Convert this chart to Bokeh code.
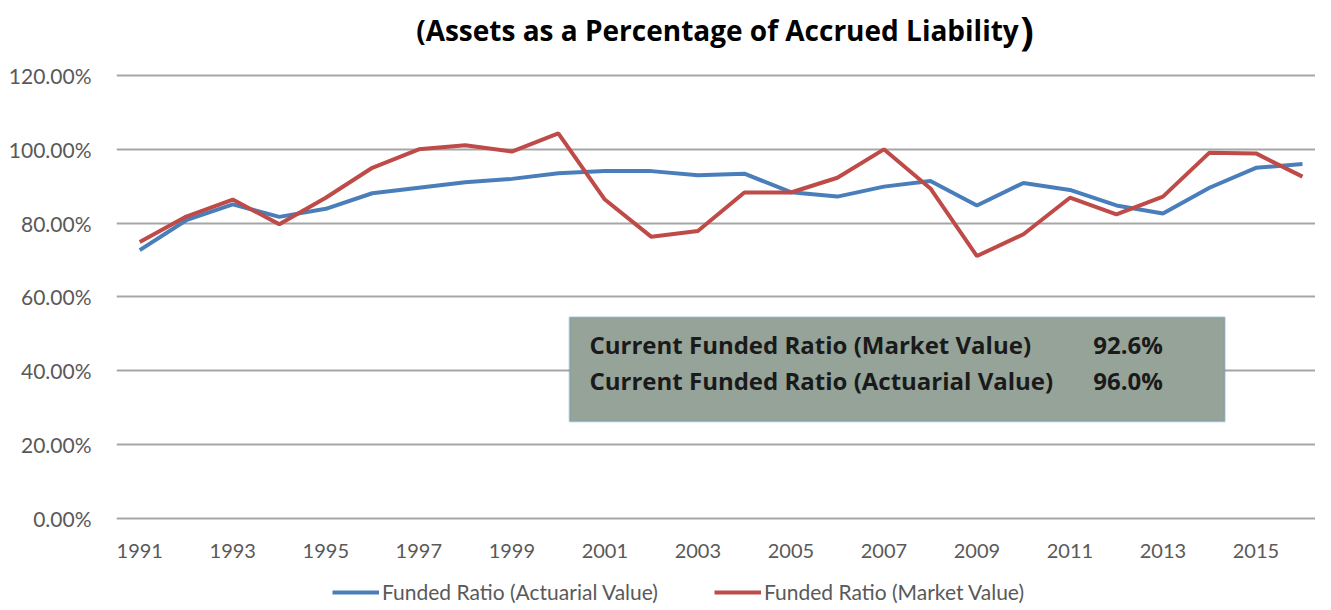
from bokeh.plotting import figure
from bokeh.models import (ColumnDataSource, FixedTicker, NumeralTickFormatter, Legend,
                          LegendItem, BoxAnnotation, Label, Range1d)
from bokeh.core.properties import value
from bokeh.embed import file_html
from bokeh.resources import INLINE

years = list(range(1991, 2017))
actuarial = [72.7, 80.8, 85.1, 81.7, 83.9, 88.1, 89.6, 91.1, 92.0, 93.5, 94.1, 94.1, 93.0,
             93.4, 88.4, 87.2, 89.9, 91.4, 84.8, 90.9, 89.0, 84.8, 82.6, 89.6, 95.0, 96.0]
market = [74.9, 81.8, 86.4, 79.7, 86.9, 95.0, 100.0, 101.1, 99.4, 104.3, 86.4, 76.3, 77.9,
          88.3, 88.3, 92.3, 100.0, 89.4, 71.1, 77.0, 86.9, 82.4, 87.2, 99.1, 98.9, 92.6]
y_ticks = [0, 0.2, 0.4, 0.6, 0.8, 1.0, 1.2]
x_ticks = list(range(1991, 2017, 2))
x_tick_labels = [str(t) for t in x_ticks]
series_names = ["Funded Ratio (Actuarial Value)", "Funded Ratio (Market Value)"]
title_text = "(Assets as a Percentage of Accrued Liability"
box_labels = ["Current Funded Ratio (Market Value)", "Current Funded Ratio (Actuarial Value)"]

BLUE = "#4A7EBB"
RED = "#BE4B48"
GRID = "#A6A6A6"
TXT = "#595959"
FONT = "Lato"
BOLD_FONT = "Open Sans"

PX_PER_UNIT = 369.17          # vertical pixels per 100 %
src = ColumnDataSource(dict(year=years,
                            act=[v / 100 for v in actuarial],
                            mkt=[v / 100 for v in market]))

# the frame spans the whole height: title, x labels and legend are drawn inside it
p = figure(width=1315, height=604, output_backend="svg", toolbar_location=None, title=None,
           x_range=Range1d(1990.5, 2016.28), y_range=Range1d(-0.2330, 1.4032),
           min_border_left=116, min_border_right=0, min_border_top=0, min_border_bottom=0)
p.outline_line_color = None
p.background_fill_color = "white"
p.border_fill_color = "white"

# y axis
p.yaxis.ticker = FixedTicker(ticks=y_ticks)
p.yaxis.formatter = NumeralTickFormatter(format="0.00%")
p.yaxis.axis_line_color = None
p.yaxis.major_tick_line_color = None
p.yaxis.minor_tick_line_color = None
p.yaxis.major_tick_out = 0
p.yaxis.major_tick_in = 0
p.yaxis.major_label_standoff = 25
p.yaxis.major_label_text_font = FONT
p.yaxis.major_label_text_font_size = "21px"
p.yaxis.major_label_text_color = TXT

# x axis: category labels under the 0% line
p.xaxis.visible = False
p.text(x=x_ticks, y=[-33 / PX_PER_UNIT] * len(x_ticks), text=x_tick_labels,
       text_font=value(FONT), text_font_size="20px", text_color=TXT,
       text_align="center", text_baseline="middle")

p.xgrid.grid_line_color = None
p.ygrid.ticker = FixedTicker(ticks=y_ticks)
p.ygrid.grid_line_color = GRID
p.ygrid.grid_line_width = 2

r_act = p.line("year", "act", source=src, line_color=BLUE, line_width=4)
r_mkt = p.line("year", "mkt", source=src, line_color=RED, line_width=4)

# annotation box
box = BoxAnnotation(left=2000.24, right=2014.33, bottom=0.263, top=0.545,
                    fill_color="#95A398", fill_alpha=1.0,
                    line_color="#5B8AC4", line_width=2)
p.add_layout(box)

vals = [market[-1], actuarial[-1]]
for lab, v, yy in zip(box_labels, vals, [0.4713, 0.3738]):
    p.add_layout(Label(x=2000.67, y=yy, text=lab, text_font=BOLD_FONT, text_font_style="bold",
                       text_font_size="24px", text_color="#1A1A1A", text_baseline="middle"))
    p.add_layout(Label(x=2011.5, y=yy, text=f"{v:.1f}%", text_font=BOLD_FONT, text_font_style="bold",
                       text_font_size="24px", text_color="#1A1A1A", text_baseline="middle"))

# title, closing paren larger as in the source
p.add_layout(Label(x=2009.90, y=1.3246, text=title_text, text_font=BOLD_FONT, text_font_style="bold",
                   text_font_size="28px", text_color="#000000", text_baseline="middle",
                   text_align="right"))
p.add_layout(Label(x=2009.93, y=1.3246, text=")", text_font=BOLD_FONT, text_font_style="bold",
                   text_font_size="40px", text_color="#000000", text_baseline="middle",
                   text_align="left"))

legend = Legend(items=[LegendItem(label=series_names[0], renderers=[r_act]),
                       LegendItem(label=series_names[1], renderers=[r_mkt])],
                orientation="horizontal", location=(216, 0),
                padding=0, margin=0, spacing=56, glyph_width=47, glyph_height=20,
                label_standoff=3, label_height=20,
                label_text_font=FONT, label_text_font_size="21px", label_text_color=TXT,
                border_line_color=None, background_fill_alpha=0)
p.add_layout(legend, "center")

open("out.html", "w").write(file_html(p, INLINE))
